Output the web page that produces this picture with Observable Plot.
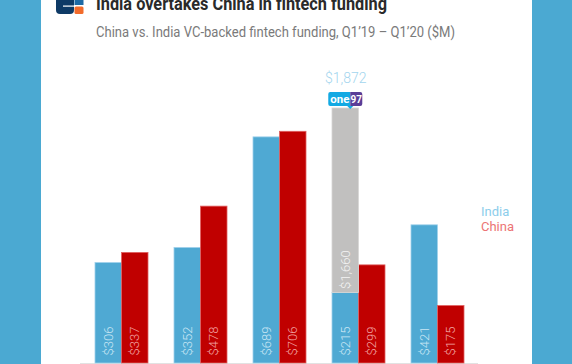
<!DOCTYPE html>
<html>
<head>
<meta charset="utf-8">
<script src="https://cdn.jsdelivr.net/npm/d3@7"></script>
<script src="https://cdn.jsdelivr.net/npm/@observablehq/plot@0.6"></script>
<style>
  html, body { margin: 0; padding: 0; }
  body { width: 572px; height: 364px; overflow: hidden; background: #4ba9d2; position: relative; font-family: Roboto, "Noto Sans", sans-serif; }
  #panel { position: absolute; left: 41px; top: 0; width: 491px; height: 364px; background: #ffffff; }
  .t { position: absolute; white-space: nowrap; line-height: 1; transform-origin: 0 0; }
  #title { left: 96px; top: -6px; font-size: 19px; font-weight: 700; color: #2a2a2a; }
  #subtitle { left: 96px; top: 25px; font-size: 15px; color: #7a7a7a; }
  #legIndia { left: 481px; top: 205px; font-size: 13px; color: #8ccdeb; }
  #legChina { left: 481px; top: 220px; font-size: 13px; color: #ec7474; }
  #chart { position: absolute; left: 0; top: 0; }
  #logo { position: absolute; left: 56px; top: -14px; }
</style>
</head>
<body>
<div id="panel"></div>
<svg id="logo" width="28" height="28" viewBox="0 0 28 28">
  <rect x="0" y="0" width="18" height="28" rx="4" fill="#0e3a66"/>
  <rect x="18.5" y="0" width="9" height="19" fill="#1d6aa5"/>
  <rect x="18.5" y="20.5" width="9" height="7.5" rx="1.5" fill="#f26b2b"/>
  <rect x="7" y="19.5" width="11.5" height="1.2" fill="#ffffff"/>
</svg>
<div id="title" class="t">India overtakes China in fintech funding</div>
<div id="subtitle" class="t">China vs. India VC-backed fintech funding, Q1’19 – Q1’20 ($M)</div>
<div id="chart"></div>
<div id="legIndia" class="t">India</div>
<div id="legChina" class="t">China</div>
<script>
// ---- data ----
const quarters = ["Q1’19", "Q2’19", "Q3’19", "Q4’19", "Q1’20"];
const indiaValues = [306, 352, 689, 215, 421];
const chinaValues = [337, 478, 706, 299, 175];
const paytmQuarter = "Q4’19";
const paytmValue = 1660;
const indiaTotalLabel = "$1,872";

const fmt = v => "$" + d3.format(",")(v);
const rows = quarters.map((q, i) => ({q, india: indiaValues[i], china: chinaValues[i]}));
const paytmBase = indiaValues[quarters.indexOf(paytmQuarter)];
const paytmRows = [{q: paytmQuarter, y1: paytmBase, y2: paytmBase + paytmValue, label: fmt(paytmValue)}];
const totalRows = [{q: paytmQuarter, v: paytmBase + paytmValue, label: indiaTotalLabel}];

const half = 26.55;
const blue = "#4fa9d3", red = "#c00000", gray = "#c1c0bf";

const plot = Plot.plot({
  width: 572,
  height: 364,
  marginLeft: 80,
  marginRight: 94,
  marginTop: 108,
  marginBottom: 1,
  x: {domain: quarters, paddingInner: 0.335, paddingOuter: 0.16, axis: null},
  y: {domain: [0, 777], clamp: true, axis: null},
  style: {background: "transparent", fontFamily: "Roboto, sans-serif", overflow: "visible"},
  marks: [
    Plot.ruleY([0], {stroke: "#e2e2e2", strokeWidth: 1}),
    Plot.barY(rows, {x: "q", y: "india", fill: blue, stroke: "#9fd0ea", strokeWidth: 0.8, insetRight: half}),
    Plot.barY(rows, {x: "q", y: "china", fill: red, stroke: "#e06060", strokeWidth: 0.8, insetLeft: half}),
    Plot.barY(paytmRows, {x: "q", y1: "y1", y2: "y2", fill: gray, stroke: "#d6d5d4", strokeWidth: 0.8, insetRight: half}),
    Plot.text(rows, {x: "q", y: 0, text: d => fmt(d.india), rotate: -90, textAnchor: "start", dx: -half / 2, dy: -8, fill: "#c9e6f4", fontSize: 13, fontWeight: 300}),
    Plot.text(rows, {x: "q", y: 0, text: d => fmt(d.china), rotate: -90, textAnchor: "start", dx: half / 2, dy: -8, fill: "#f2a4a4", fontSize: 13, fontWeight: 300}),
    Plot.text(paytmRows, {x: "q", y: "y1", text: "label", rotate: -90, textAnchor: "start", dx: -half / 2, dy: -4, fill: "#f4f4f4", fontSize: 13, fontWeight: 300}),
    Plot.text(totalRows, {x: "q", y: "v", text: "label", dx: -half / 2, dy: -30, fill: "#a3d5ee", fontSize: 14, fontWeight: 300})
  ]
});
document.getElementById("chart").appendChild(plot);

// one97 badge placed with the plot's own scales
const xs = plot.scale("x"), ys = plot.scale("y");
const cx = xs.apply(paytmQuarter) + half / 2;
const topY = ys.apply(Math.min(paytmBase + paytmValue, ys.domain[1]));
const svg = d3.select(plot);
const g = svg.append("g").attr("transform", `translate(${cx - 17},${topY - 16})`);
g.append("path").attr("d", "M2,0 H22 V14 H2 Q0,14 0,12 V2 Q0,0 2,0 Z").attr("fill", "#13a9e3");
g.append("path").attr("d", "M22,0 H32 Q34,0 34,2 V12 Q34,14 32,14 H22 Z").attr("fill", "#5a3d97");
g.append("path").attr("d", "M19,14 L22,17 L25,14 Z").attr("fill", "#13a9e3");
g.append("text").attr("x", 11.5).attr("y", 11).attr("text-anchor", "middle").attr("font-size", 11.5).attr("font-weight", 700).attr("fill", "#fff").attr("font-family", "Roboto, sans-serif").text("one");
g.append("text").attr("x", 28).attr("y", 11).attr("text-anchor", "middle").attr("font-size", 10).attr("font-weight", 700).attr("fill", "#fff").attr("font-family", "Roboto, sans-serif").text("97");

// fit header text widths to reference
function fit(id, w) {
  const el = document.getElementById(id);
  const cw = el.getBoundingClientRect().width;
  el.style.transform = `scaleX(${w / cw})`;
}
fit("title", 291);
fit("subtitle", 359);
</script>
</body>
</html>
